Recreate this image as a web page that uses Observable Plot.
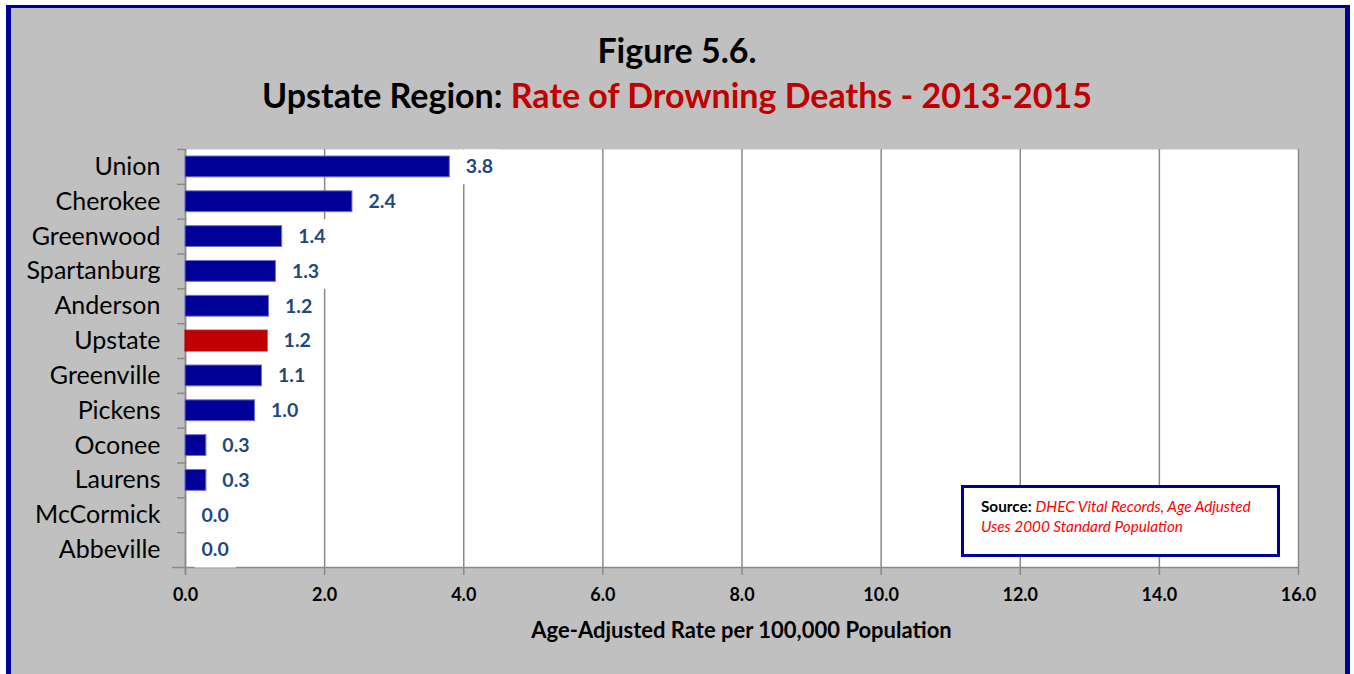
<!DOCTYPE html>
<html>
<head>
<meta charset="utf-8">
<script src="https://cdn.jsdelivr.net/npm/d3@7"></script>
<script src="https://cdn.jsdelivr.net/npm/@observablehq/plot@0.6"></script>
<style>
  html, body { margin: 0; padding: 0; width: 1354px; height: 674px; overflow: hidden; background: #fff; }
  #frame { position: absolute; left: 6px; top: 5px; width: 1344px; height: 700px; box-sizing: border-box;
           background: #C0C0C0; border-top: 3px solid #000099; border-left: 5px solid #000099; border-right: 5px solid #000099; }
  #chart { position: absolute; left: 0; top: 0; }
  .t { position: absolute; font-family: Lato, "Open Sans", sans-serif; font-weight: bold; white-space: nowrap; }
  #title1 { left: 0; width: 1354px; text-align: center; top: 29px; font-size: 34px; color: #000; }
  #title2 { left: 0; width: 1354px; text-align: center; top: 74px; font-size: 34px; color: #000; }
  #title2 span { color: #C00000; }
  #xtitle { left: 185px; width: 1113px; text-align: center; top: 616px; font-size: 22px; color: #000; }
  #source { position: absolute; left: 961px; top: 485px; width: 319px; height: 72px; box-sizing: border-box;
            border: 3px solid #000099; background: #fff; font-family: Lato, "Open Sans", sans-serif; font-size: 15.3px;
            padding: 8px 0 0 17px; line-height: 20px; }
  #source b { color: #000; }
  #source i { color: #FF0000; }
</style>
</head>
<body>
<div id="frame"></div>
<div id="chart"></div>
<div class="t" id="title1">Figure 5.6.</div>
<div class="t" id="title2">Upstate Region: <span>Rate of Drowning Deaths - 2013-2015</span></div>
<div class="t" id="xtitle">Age-Adjusted Rate per 100,000 Population</div>
<div id="source"><b>Source:</b> <i>DHEC Vital Records, Age Adjusted</i><br><i>Uses 2000 Standard Population</i></div>
<script>
const categories = ["Union", "Cherokee", "Greenwood", "Spartanburg", "Anderson", "Upstate",
                    "Greenville", "Pickens", "Oconee", "Laurens", "McCormick", "Abbeville"];
const rates = [3.8, 2.4, 1.39, 1.3, 1.2, 1.18, 1.1, 1.0, 0.3, 0.3, 0.0, 0.0];
const highlight = "Upstate";
const xTicks = [0, 2, 4, 6, 8, 10, 12, 14, 16];
const xDomain = [0, 16];

const data = categories.map((c, i) => ({name: c, rate: rates[i]}));

const W = 1354, H = 674;
const mL = 185, mR = 56, mT = 149, mB = 107;
const bw = (H - mT - mB) / categories.length;
const gridColor = "#8a8a8a";

const chart = Plot.plot({
  width: W, height: H,
  marginLeft: mL, marginRight: mR, marginTop: mT, marginBottom: mB,
  style: {background: "transparent", fontFamily: "Lato, 'Open Sans', sans-serif", color: "#000"},
  x: {domain: xDomain},
  y: {domain: categories, padding: 0, round: false},
  color: {type: "identity"},
  marks: [
    Plot.frame({fill: "white", stroke: null}),
    Plot.gridX(xTicks, {stroke: gridColor, strokeOpacity: 1, strokeWidth: 1.5}),
    Plot.ruleX([0], {stroke: gridColor, strokeWidth: 1.5, insetBottom: -8}),
    Plot.ruleY(categories, {y: d => d, dy: -bw / 2, x1: 0, x2: 0, insetLeft: -8, stroke: gridColor, strokeWidth: 1.5}),
    Plot.ruleY([categories[categories.length - 1]], {y: d => d, dy: bw / 2, x1: 0, x2: 16, insetLeft: -13, stroke: gridColor, strokeWidth: 1.5}),
    Plot.barX(data, {
      x: "rate", y: "name",
      fill: d => d.name === highlight ? "#C00000" : "#000099",
      stroke: d => d.name === highlight ? "#C00000" : "#7070d0",
      strokeWidth: 1,
      insetTop: 7, insetBottom: 7
    }),
    Plot.axisX(xTicks, {
      tickSize: 8, tickPadding: 13, stroke: gridColor, strokeWidth: 1.5,
      tickFormat: d => d.toFixed(1), fontSize: 18, fontWeight: "bold", fill: "#000", label: null
    }),
    Plot.axisY({tickSize: 0, tickPadding: 25, fontSize: 25, fill: "#000", label: null}),
    Plot.text(data, {
      x: "rate", y: "name", text: d => d.rate.toFixed(1),
      dx: 16, textAnchor: "start", fontWeight: "bold", fontSize: 19.5, fill: "#1F497D",
      ariaLabel: "value-label"
    })
  ]
});

document.getElementById("chart").appendChild(chart);

// white label boxes behind value labels (as in the original)
let g = chart.querySelector('g[aria-label="value-label"]');
if (!g) {
  const all = chart.querySelectorAll('g[aria-label="text"]');
  g = all[all.length - 1];
}
if (g) {
  const texts = Array.from(g.querySelectorAll("text"));
  const box = document.createElementNS("http://www.w3.org/2000/svg", "g");
  box.setAttribute("aria-hidden", "true");
  const gt = g.getAttribute("transform");
  if (gt) box.setAttribute("transform", gt);
  for (const t of texts) {
    const bb = t.getBBox();
    const r = document.createElementNS("http://www.w3.org/2000/svg", "rect");
    const tr = t.getAttribute("transform");
    const cy = tr ? 0 : (+t.getAttribute("y") || 0);
    r.setAttribute("x", bb.x - 7);
    r.setAttribute("y", cy - bw / 2);
    r.setAttribute("width", bb.width + 14);
    r.setAttribute("height", bw);
    r.setAttribute("fill", "#ffffff");
    if (tr) r.setAttribute("transform", tr);
    box.appendChild(r);
  }
  g.parentNode.insertBefore(box, g);
}
</script>
</body>
</html>
